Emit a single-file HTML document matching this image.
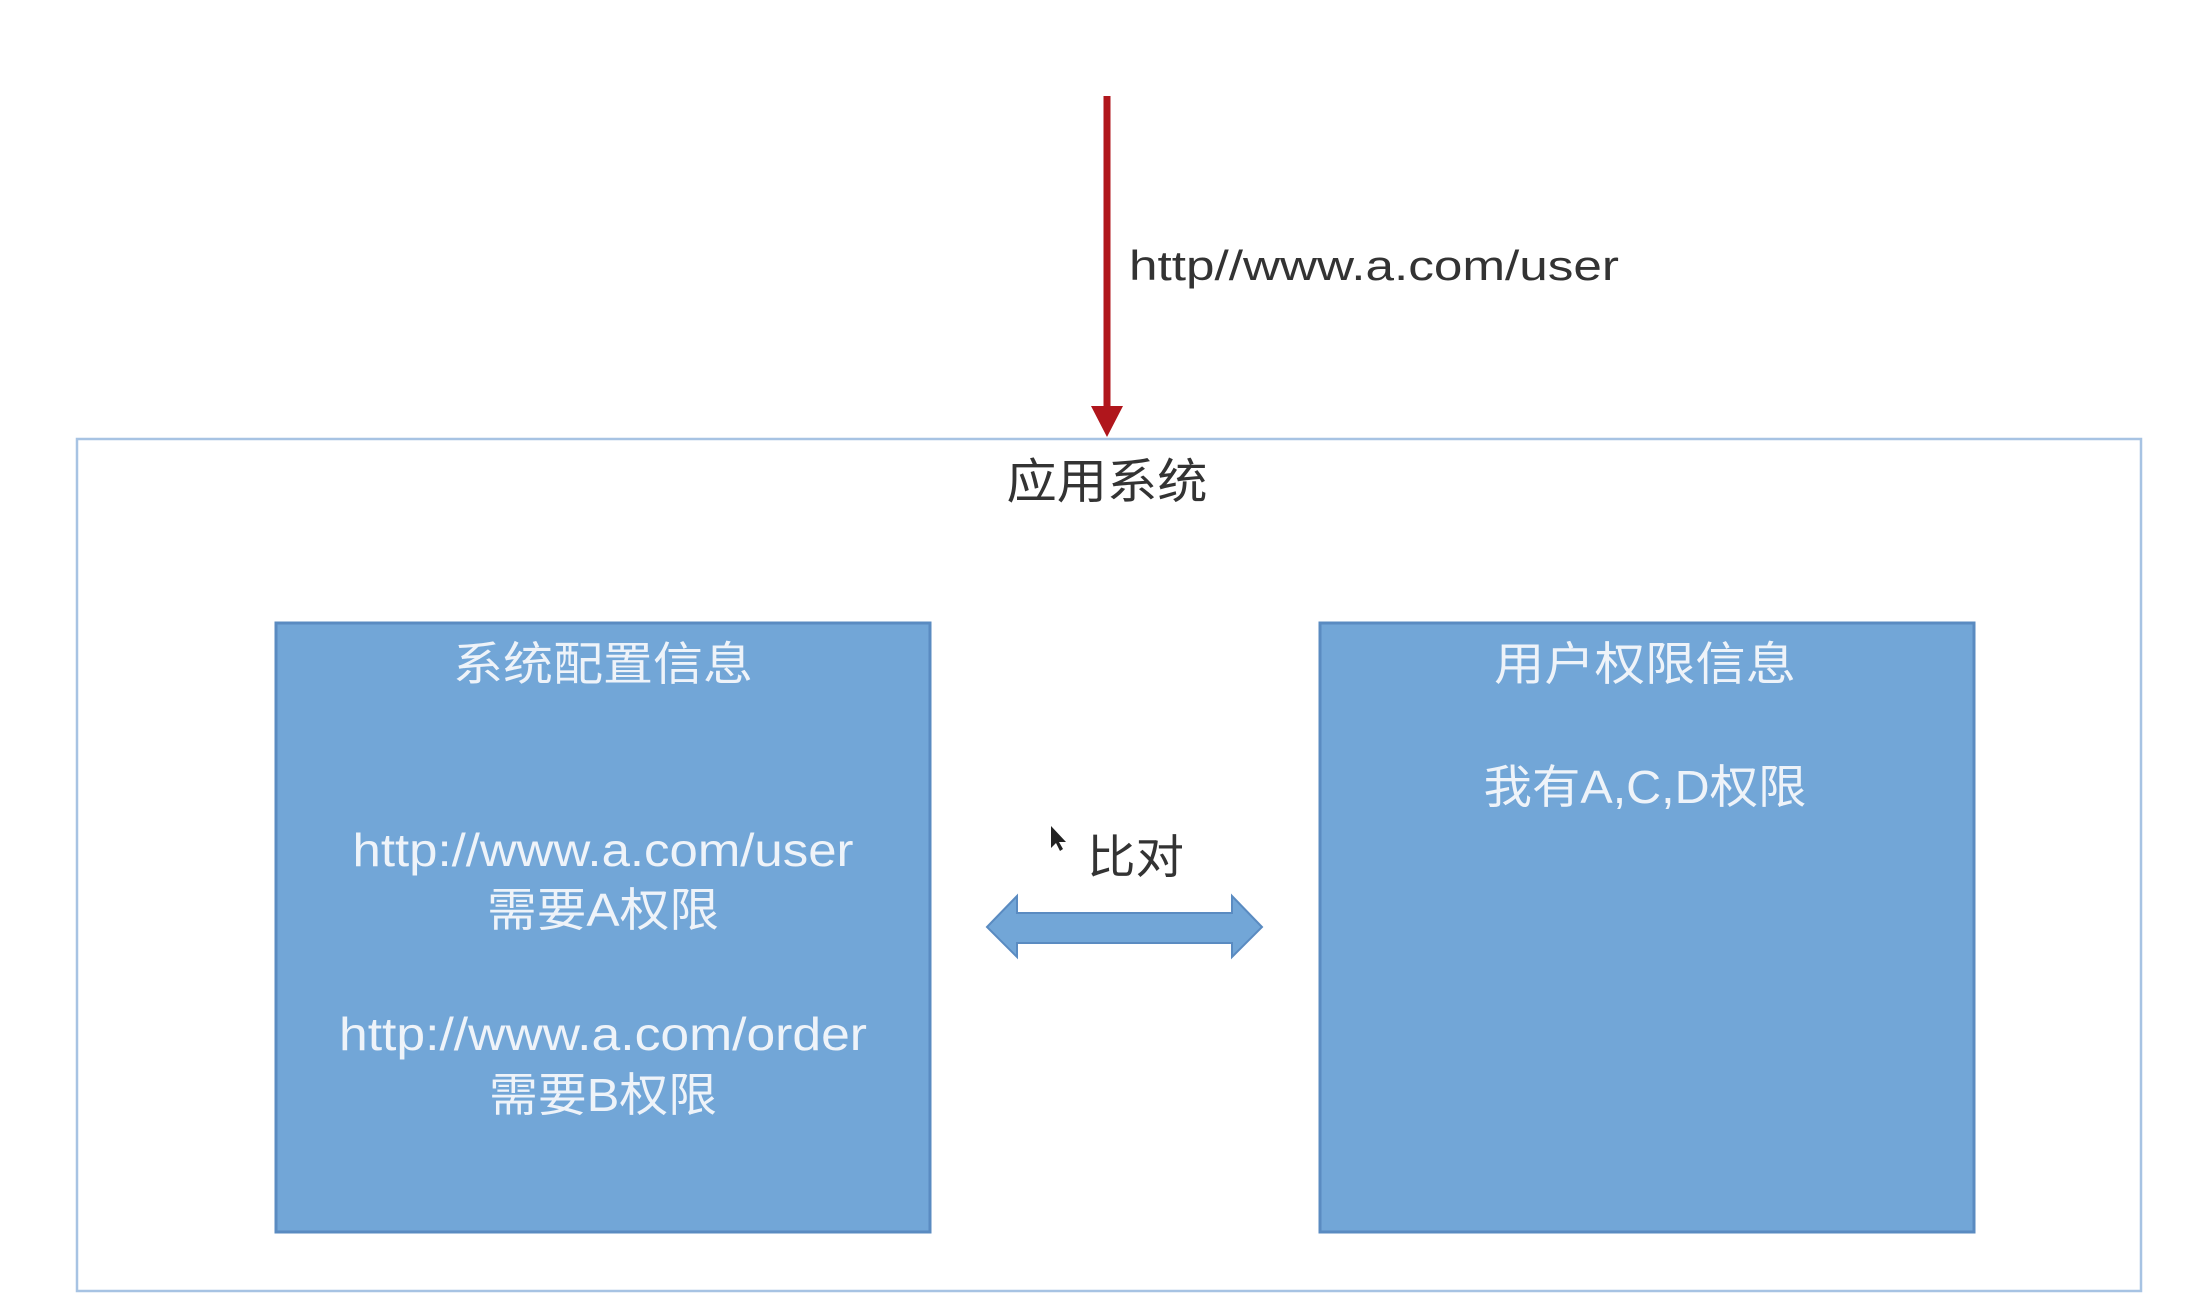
<!DOCTYPE html>
<html><head><meta charset="utf-8"><style>html,body{margin:0;padding:0;background:#fff;}svg{display:block}</style></head>
<body>
<svg width="2198" height="1298" viewBox="0 0 2198 1298" xmlns="http://www.w3.org/2000/svg" font-family="'Liberation Sans','Noto Sans CJK SC',sans-serif">
<rect width="2198" height="1298" fill="#fff"/>
<rect x="77" y="439" width="2064" height="852" fill="none" stroke="#a7c3e3" stroke-width="2.5"/>
<line x1="1107" y1="96" x2="1107" y2="412" stroke="#b0161c" stroke-width="7"/>
<polygon points="1091,406 1123,406 1107,437" fill="#b0161c"/>
<text x="1129" y="280" font-size="42" fill="#333" textLength="490" lengthAdjust="spacingAndGlyphs">http//www.a.com/user</text>
<text x="1107" y="498" font-size="48" fill="#333" text-anchor="middle" textLength="201" lengthAdjust="spacingAndGlyphs">应用系统</text>
<rect x="276" y="623" width="654" height="609" fill="#72a6d7" stroke="#5a8bc1" stroke-width="3"/>
<rect x="1320" y="623" width="654" height="609" fill="#72a6d7" stroke="#5a8bc1" stroke-width="3"/>
<g fill="#eef3f9" font-size="46" text-anchor="middle">
<text x="603" y="680" textLength="300" lengthAdjust="spacingAndGlyphs">系统配置信息</text>
<text x="603" y="866" textLength="501" lengthAdjust="spacingAndGlyphs">http://www.a.com/user</text>
<text x="603" y="926" textLength="232" lengthAdjust="spacingAndGlyphs">需要A权限</text>
<text x="603" y="1050" textLength="528" lengthAdjust="spacingAndGlyphs">http://www.a.com/order</text>
<text x="603" y="1111" textLength="228" lengthAdjust="spacingAndGlyphs">需要B权限</text>
<text x="1645" y="680" textLength="302" lengthAdjust="spacingAndGlyphs">用户权限信息</text>
<text x="1645" y="803" textLength="323" lengthAdjust="spacingAndGlyphs">我有A,C,D权限</text>
</g>
<text x="1087" y="873" font-size="46" fill="#333" textLength="97" lengthAdjust="spacingAndGlyphs">比对</text>
<polygon points="1051,826 1051,848 1056,843 1060,851 1063,849 1059,842 1066,842" fill="#222"/>
<polygon points="987,927 1017,896 1017,913 1232,913 1232,896 1262,927 1232,957 1232,943 1017,943 1017,957" fill="#72a6d7" stroke="#5a8bc1" stroke-width="2"/>
</svg>
</body></html>
